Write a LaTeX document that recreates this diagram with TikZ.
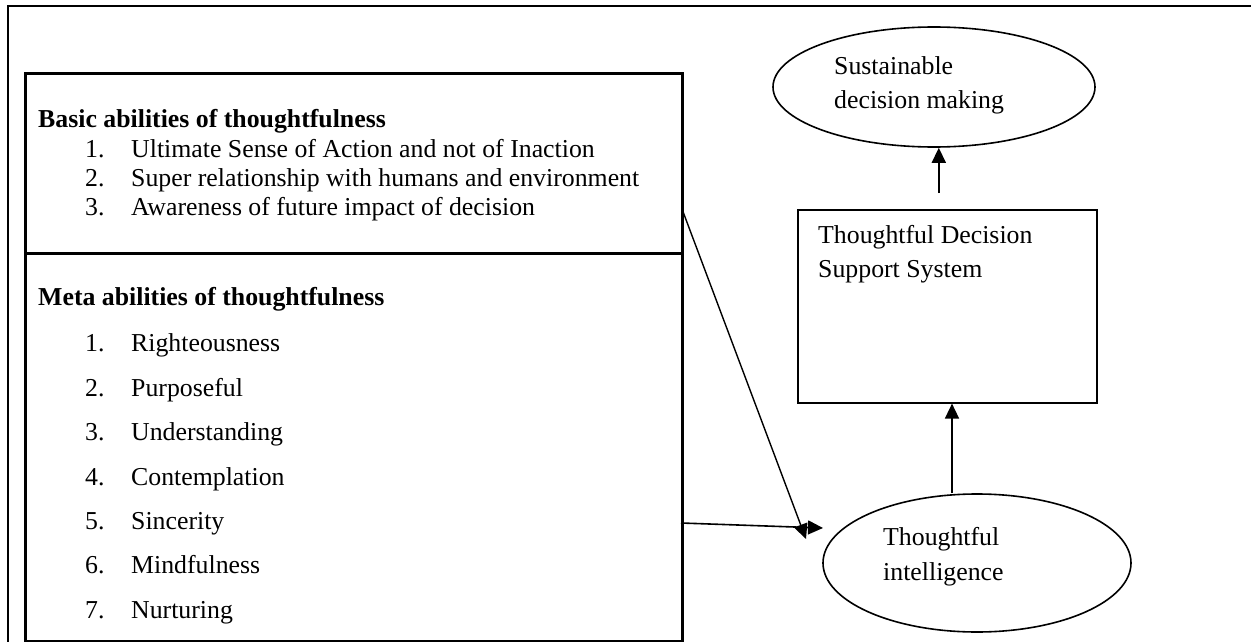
\documentclass[tikz,border=0pt]{standalone}
\usepackage{fontspec}
\setmainfont{Liberation Serif}
\usetikzlibrary{shapes.geometric,arrows.meta}
\begin{document}
\begin{tikzpicture}[x=1pt,y=-1pt,
  font=\fontsize{25.8}{29.7}\selectfont,
  frame/.style={line width=2.6pt},
  thickbox/.style={draw,line width=2.6pt,inner sep=0pt,anchor=north west},
  thinbox/.style={draw,line width=1.6pt,inner sep=0pt,anchor=north west},
  oval/.style={draw,ellipse,line width=1.6pt,inner sep=0pt},
  txt/.style={anchor=base west,inner sep=0pt},
  arr/.style={line width=1.6pt,-{Triangle[length=15pt,width=14pt]}},
  thinarr/.style={line width=1.4pt,-{Triangle[length=15pt,width=14pt]}}
]
\useasboundingbox (0,0) rectangle (1251,642);
% outer frame (only its top and left sides are in view)
\draw[frame] (8,680) -- (8,6) -- (1290,6);
% left boxes
\node[thickbox, minimum width=657pt, minimum height=180pt] (basic) at (24,72) {};
\node[thickbox, minimum width=657pt, minimum height=388pt] (meta) at (24,252) {};
% basic abilities
\node[txt] (bh) at (38,127) {\bfseries Basic abilities of thoughtfulness};
\node[txt] (bn1) at (85,157) {1.}; \node[txt] (bt1) at (131,157) {Ultimate Sense of Action and not of Inaction};
\node[txt] (bn2) at (85,186) {2.}; \node[txt] (bt2) at (131,186) {Super relationship with humans and environment};
\node[txt] (bn3) at (85,215) {3.}; \node[txt] (bt3) at (131,215) {Awareness of future impact of decision};
% meta abilities
\node[txt] (mh) at (38,305) {\bfseries Meta abilities of thoughtfulness};
\node[txt] (mn1) at (85,351) {1.}; \node[txt] (mt1) at (131,351) {Righteousness};
\node[txt] (mn2) at (85,396) {2.}; \node[txt] (mt2) at (131,396) {Purposeful};
\node[txt] (mn3) at (85,440) {3.}; \node[txt] (mt3) at (131,440) {Understanding};
\node[txt] (mn4) at (85,485) {4.}; \node[txt] (mt4) at (131,485) {Contemplation};
\node[txt] (mn5) at (85,529) {5.}; \node[txt] (mt5) at (131,529) {Sincerity};
\node[txt] (mn6) at (85,573) {6.}; \node[txt] (mt6) at (131,573) {Mindfulness};
\node[txt] (mn7) at (85,618) {7.}; \node[txt] (mt7) at (131,618) {Nurturing};
% right side
\node[oval, minimum width=322pt, minimum height=120pt] (sdm) at (934,87) {};
\node[txt] (sdm1) at (834,75) {Sustainable};
\node[txt] (sdm2) at (834,108) {decision making};
\node[thinbox, minimum width=299pt, minimum height=193pt] (tdss) at (797,209) {};
\node[txt] (tdss1) at (818,243) {Thoughtful Decision};
\node[txt] (tdss2) at (818,277) {Support System};
\node[oval, minimum width=308pt, minimum height=138pt] (ti) at (977,563) {};
\node[txt] (ti1) at (883,545) {Thoughtful};
\node[txt] (ti2) at (883,580) {intelligence};
% connectors
\draw[arr] ([shift={(-8.5,-16)}]tdss.north) coordinate (a1s) -- (a1s |- sdm.south);
\draw[arr] ([xshift=-25pt]ti.north) coordinate (a2s) -- (a2s |- tdss.south);
\coordinate (dstart) at (682,209);
\coordinate (dtip) at (806,539);
\draw[thinarr] (dstart) -- (dtip);
\coordinate (hstart) at (681,523);
\coordinate (htip) at (823,528);
\draw[arr] (hstart) -- (htip);
\end{tikzpicture}
\end{document}
